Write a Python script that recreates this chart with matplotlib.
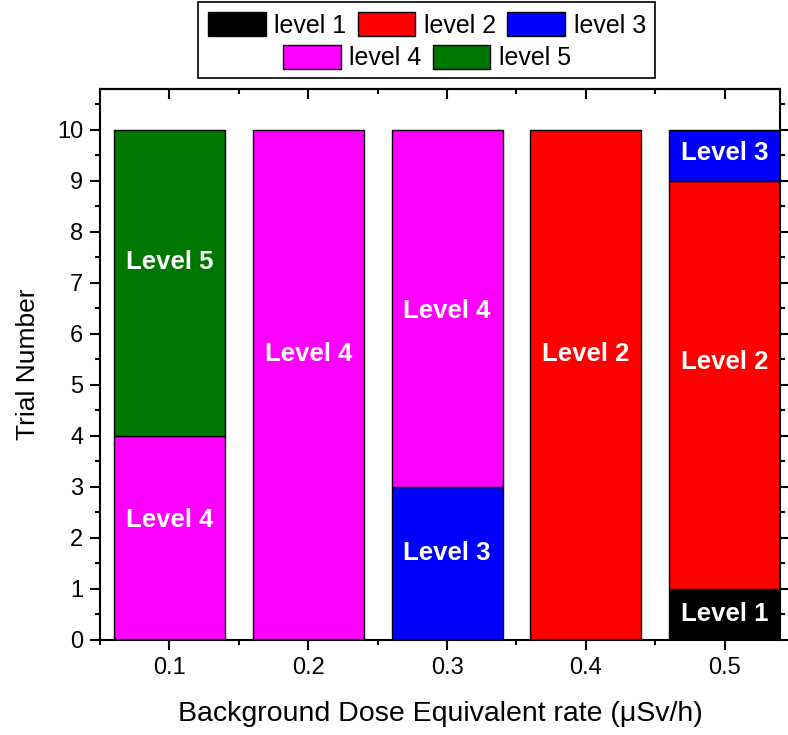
import matplotlib
matplotlib.use("Agg")
import matplotlib.pyplot as plt
from matplotlib.patches import Patch, Rectangle
from matplotlib.ticker import MultipleLocator

plt.rcParams['font.family'] = ['Liberation Sans', 'DejaVu Sans']

# data
dose_rate = [0.1, 0.2, 0.3, 0.4, 0.5]
level1 = [0, 0, 0, 0, 1]
level2 = [0, 0, 0, 10, 8]
level3 = [0, 0, 3, 0, 1]
level4 = [4, 10, 7, 0, 0]
level5 = [6, 0, 0, 0, 0]
levels = [level1, level2, level3, level4, level5]
level_names = ["Level 1", "Level 2", "Level 3", "Level 4", "Level 5"]
legend_names = ["level 1", "level 2", "level 3", "level 4", "level 5"]
colors = ["#000000", "#ff0000", "#0000ff", "#ff00ff", "#007700"]

# the in-bar labels are not all centred in the original, small nudges (trials)
label_shift = {(0, 4): 0.4, (0, 3): 0.35, (1, 3): 0.6, (2, 3): -0.05,
               (2, 2): 0.2, (3, 1): 0.6, (4, 1): 0.45, (4, 2): 0.05}

fig = plt.figure(figsize=(7.88, 7.35), dpi=100)
ax = fig.add_axes([0.127, 0.1293, 0.863, 0.7497])

bottom = [0] * len(dose_rate)
for k, vals in enumerate(levels):
    # skip empty segments so no extra edge lines show up
    xs = [x for x, v in zip(dose_rate, vals) if v > 0]
    hs = [v for v in vals if v > 0]
    bs = [b for b, v in zip(bottom, vals) if v > 0]
    ax.bar(xs, hs, width=0.08, bottom=bs, color=colors[k],
           edgecolor="black", linewidth=1.0, zorder=2)
    for i, v in enumerate(vals):
        if v > 0:
            yc = bottom[i] + v / 2 + label_shift.get((i, k), 0)
            ax.text(dose_rate[i], yc, level_names[k], color="white",
                    fontsize=18.5, fontweight="bold", ha="center", va="center",
                    zorder=3)
    bottom = [b + v for b, v in zip(bottom, vals)]

ax.set_xlim(0.05, 0.54)
ax.set_ylim(0, 10.8)
ax.set_xticks(dose_rate)
ax.set_xticklabels(["0.1", "0.2", "0.3", "0.4", "0.5"])
ax.xaxis.set_minor_locator(MultipleLocator(0.05))
ax.set_yticks(range(0, 11))
ax.yaxis.set_minor_locator(MultipleLocator(0.5))

ax.tick_params(axis="both", which="major", labelsize=17, length=7.2, width=1.5,
               direction="out", pad=5)
ax.tick_params(axis="both", which="minor", length=3.5, width=1.5, direction="out")
ax.tick_params(axis="y", right=True, which="both")
# top axis: ticks point inwards, no labels
top = ax.secondary_xaxis("top")
top.set_xticks(dose_rate)
top.set_xticklabels([])
top.xaxis.set_minor_locator(MultipleLocator(0.05))
top.tick_params(which="major", direction="in", length=7.2, width=1.5)
top.tick_params(which="minor", direction="in", length=3.5, width=1.5)
top.spines["top"].set_linewidth(1.5)
for sp in ax.spines.values():
    sp.set_linewidth(1.5)

ax.set_xlabel("Background Dose Equivalent rate (\u03bcSv/h)", fontsize=20.5,
              labelpad=16)
ax.set_ylabel("Trial Number", fontsize=19, labelpad=12)

# legend: 3 on the first row, 2 centred on the second, one frame round both
handles = [Patch(facecolor=c, edgecolor="black", linewidth=1) for c in colors]
kw = dict(frameon=False, fontsize=18, handlelength=2.3, handleheight=1.1,
          handletextpad=0.35, columnspacing=0.45, borderpad=0, borderaxespad=0)
leg1 = fig.legend(handles[:3], legend_names[:3], ncol=3, loc="center",
                  bbox_to_anchor=(0.542, 0.966), **kw)
leg2 = fig.legend(handles[3:], legend_names[3:], ncol=2, loc="center",
                  bbox_to_anchor=(0.542, 0.922), **kw)
fig.patches.append(Rectangle((0.251, 0.894), 0.580, 0.103,
                             transform=fig.transFigure, fill=False,
                             edgecolor="black", linewidth=1.2))

fig.savefig("out.png", dpi=100)
